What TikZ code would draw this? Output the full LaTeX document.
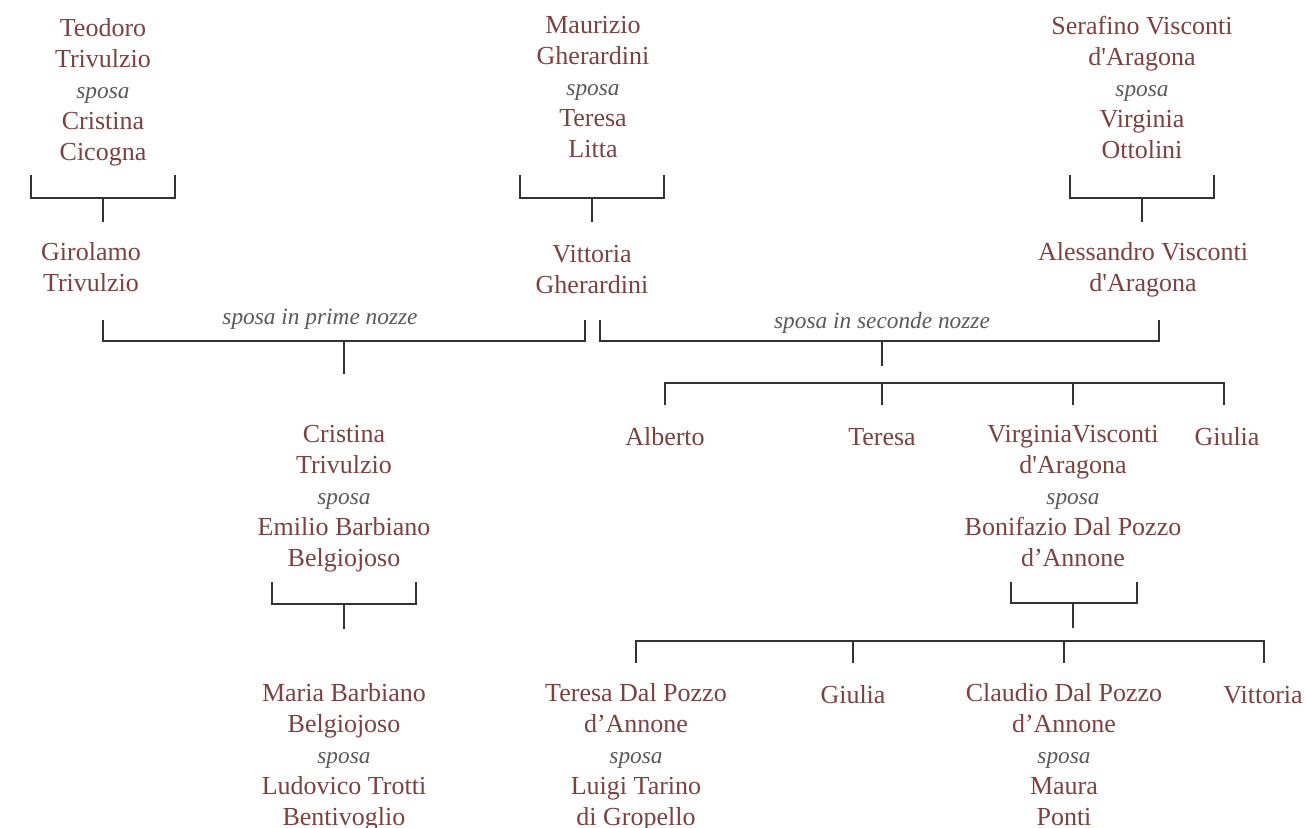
\documentclass[tikz,border=0pt]{standalone}
\usepackage{fontspec}
\newfontfamily\treefont{Liberation Serif}
\definecolor{namecol}{HTML}{7A4242}
\definecolor{sposacol}{HTML}{5A5A5A}
\definecolor{linecol}{HTML}{333333}
\newcommand{\sposa}{{\itshape\color{sposacol}\fontsize{17.5}{23.25}\selectfont sposa}}

\begin{document}
\begin{tikzpicture}[x=0.75pt,y=-0.75pt,draw=linecol,line width=1pt]
    \tikzstyle{person}=[align=center,text=namecol,inner sep=0pt,yshift=-3pt,
        font=\treefont\fontsize{19.5}{23.25}\selectfont,
        execute at begin node=\strut,execute at end node=\strut]
    \tikzstyle{nozze}=[text=sposacol,inner sep=0pt,yshift=-2pt,
        font=\treefont\itshape\fontsize{17.5}{23.25}\selectfont]
    \useasboundingbox (0,0) rectangle (1307,828);

    % Grandparents
    \node[person] (tt) at (103,90) {Teodoro\\Trivulzio\\\sposa\\Cristina\\Cicogna};
    \node[person] (mg) at (593,88) {Maurizio\\Gherardini\\\sposa\\Teresa\\Litta};
    \node[person] (sv) at (1142,88) {Serafino Visconti\\d'Aragona\\\sposa\\Virginia\\Ottolini};

    % Parents
    \node[person] (gt) at (91,268) {Girolamo\\Trivulzio};
    \node[person] (vg) at (592,270) {Vittoria\\Gherardini};
    \node[person] (av) at (1143,268) {Alessandro Visconti\\d'Aragona};

    % Marriages
    \node[nozze] (prime) at (320,317) {sposa in prime nozze};
    \node[nozze] (seconde) at (882,320) {sposa in seconde nozze};

    % Children of the first marriage
    \node[person] (ct) at (344,497) {Cristina\\Trivulzio\\\sposa\\Emilio Barbiano\\Belgiojoso};
    \node[person] (mb) at (344,755) {Maria Barbiano\\Belgiojoso\\\sposa\\Ludovico Trotti\\Bentivoglio};

    % Children of the second marriage
    \node[person] (alb) at (665,435) {Alberto};
    \node[person] (ter) at (882,435) {Teresa};
    \node[person] (vv) at (1073,497) {VirginiaVisconti\\d'Aragona\\\sposa\\Bonifazio Dal Pozzo\\d’Annone};
    \node[person] (giu) at (1227,435) {Giulia};

    % Grandchildren
    \node[person] (tdp) at (636,755) {Teresa Dal Pozzo\\d’Annone\\\sposa\\Luigi Tarino\\di Gropello};
    \node[person] (giu2) at (853,693) {Giulia};
    \node[person] (cdp) at (1064,755) {Claudio Dal Pozzo\\d’Annone\\\sposa\\Maura\\Ponti};
    \node[person] (vit) at (1263,693) {Vittoria};

    % Couple brackets
    \coordinate (tt-bar) at (103,198);
    \coordinate (tt-stem) at (103,222);
    \draw (tt-bar) ++(-72,-23) |- (tt-bar) -| ++(72,-23);
    \draw (tt-bar) -- (tt-stem);

    \coordinate (mg-bar) at (592,198);
    \coordinate (mg-stem) at (592,222);
    \draw (mg-bar) ++(-72,-23) |- (mg-bar) -| ++(72,-23);
    \draw (mg-bar) -- (mg-stem);

    \coordinate (sv-bar) at (1142,198);
    \coordinate (sv-stem) at (1142,222);
    \draw (sv-bar) ++(-72,-23) |- (sv-bar) -| ++(72,-23);
    \draw (sv-bar) -- (sv-stem);

    \coordinate (ct-bar) at (344,604);
    \coordinate (ct-stem) at (344,629);
    \draw (ct-bar) ++(-72,-22) |- (ct-bar) -| ++(72,-22);
    \draw (ct-bar) -- (ct-stem);

    \coordinate (vv-bar) at (1073,603);
    \coordinate (vv-stem) at (1073,628);
    \draw (vv-bar) ++(-62,-21) |- (vv-bar) -| ++(64,-21);
    \draw (vv-bar) -- (vv-stem);

    % First marriage
    \coordinate (gt-end) at (103,320);
    \coordinate (vg-end1) at (585,320);
    \coordinate (prime-bar) at (344,341);
    \coordinate (prime-stem) at (344,374);
    \draw (gt-end) |- (prime-bar) -| (vg-end1);
    \draw (prime-bar) -- (prime-stem);

    % Second marriage
    \coordinate (vg-end2) at (600,320);
    \coordinate (av-end) at (1159,320);
    \coordinate (seconde-bar) at (882,341);
    \coordinate (seconde-stem) at (882,366);
    \draw (vg-end2) |- (seconde-bar) -| (av-end);
    \draw (seconde-bar) -- (seconde-stem);

    % Children bar
    \coordinate (kids-bar) at (882,383);
    \coordinate (alb-top) at (665,405);
    \coordinate (ter-top) at (882,405);
    \coordinate (vv-top) at (1073,405);
    \coordinate (giu-top) at (1224,405);
    \draw (alb-top) |- (kids-bar) -| (giu-top);
    \draw (kids-bar) -- (ter-top);
    \draw (vv-top) -- (vv-top |- kids-bar);

    % Grandchildren bar
    \coordinate (gkids-bar) at (853,641);
    \coordinate (tdp-top) at (636,663);
    \coordinate (giu2-top) at (853,663);
    \coordinate (cdp-top) at (1064,663);
    \coordinate (vit-top) at (1264,663);
    \draw (tdp-top) |- (gkids-bar) -| (vit-top);
    \draw (gkids-bar) -- (giu2-top);
    \draw (cdp-top) -- (cdp-top |- gkids-bar);
\end{tikzpicture}
\end{document}
